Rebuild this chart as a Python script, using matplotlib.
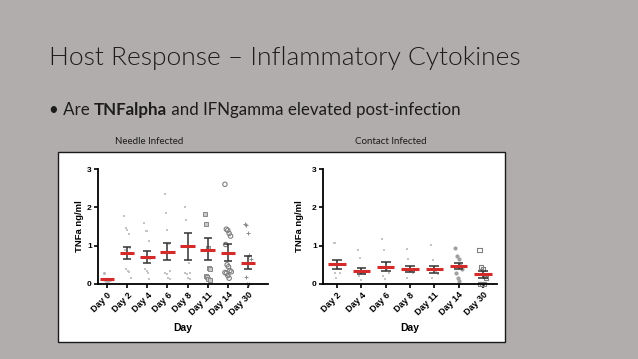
import matplotlib.pyplot as plt
from matplotlib.patches import Rectangle
import numpy as np

# ---- data ----
needle_days = ["Day 0", "Day 2", "Day 4", "Day 6", "Day 8", "Day 11", "Day 14", "Day 30"]
needle_mean = [0.12, 0.80, 0.71, 0.84, 0.98, 0.90, 0.82, 0.56]
needle_low = [0.10, 0.64, 0.56, 0.62, 0.63, 0.62, 0.61, 0.38]
needle_high = [0.14, 0.96, 0.85, 1.06, 1.33, 1.19, 1.05, 0.73]
needle_points = [
    [0.28, 0.14, 0.12, 0.11, 0.10, 0.10, 0.09, 0.08],
    [1.78, 1.47, 1.42, 1.30, 0.95, 0.88, 0.40, 0.35, 0.32, 0.15],
    [1.58, 1.38, 1.38, 1.13, 0.65, 0.40, 0.35, 0.30, 0.12],
    [2.35, 1.85, 1.40, 1.05, 0.35, 0.30, 0.25, 0.15, 0.12],
    [2.00, 1.68, 1.00, 0.55, 0.30, 0.28, 0.25, 0.15, 0.12],
    [1.82, 1.57, 0.93, 0.43, 0.40, 0.20, 0.18, 0.12, 0.10],
    [2.60, 1.43, 1.40, 1.32, 1.25, 1.03, 0.50, 0.45, 0.35, 0.32, 0.30, 0.28, 0.22, 0.15],
    [1.57, 1.55, 1.32, 0.75, 0.65, 0.18, 0.00, 0.00],
]

contact_days = ["Day 2", "Day 4", "Day 6", "Day 8", "Day 11", "Day 14", "Day 30"]
contact_mean = [0.51, 0.33, 0.45, 0.40, 0.38, 0.46, 0.25]
contact_low = [0.40, 0.25, 0.33, 0.31, 0.29, 0.38, 0.15]
contact_high = [0.63, 0.42, 0.57, 0.48, 0.48, 0.55, 0.35]
contact_points = [
    [1.08, 1.08, 0.60, 0.40, 0.30, 0.30, 0.15],
    [0.90, 0.68, 0.40, 0.30, 0.25, 0.20, 0.10],
    [1.18, 0.90, 0.55, 0.40, 0.30, 0.20, 0.12],
    [0.92, 0.65, 0.45, 0.35, 0.28, 0.15],
    [1.02, 0.62, 0.45, 0.35, 0.25, 0.15],
    [0.95, 0.72, 0.65, 0.50, 0.40, 0.30, 0.15, 0.08],
    [0.88, 0.45, 0.40, 0.20, 0.15, 0.00, 0.00, 0.00],
]

W, H = 638, 359
BG = "#b1adac"
INK = "#1c1c1c"
SANS = ["Lato", "DejaVu Sans"]
ARIAL = ["Liberation Sans", "DejaVu Sans"]

# marker styles per group (GraphPad look)
light = dict(marker="s", s=4, color="#c4c4c4", linewidths=0)
needle_styles = [dict(marker="o", s=5, color="#b8b8b8", linewidths=0),
                 light, light, light, light,
                 dict(marker="s", s=9, facecolor="#c8c8c8", edgecolor="#8a8a8a", linewidths=0.7),
                 dict(marker="o", s=10, facecolor="none", edgecolor="#7f7f7f", linewidths=0.8),
                 dict(marker="+", s=8, color="#8c8c8c", linewidths=0.7)]
contact_styles = [light, light, light, light, light,
                  dict(marker="o", s=9, color="#a0a0a0", linewidths=0),
                  dict(marker="s", s=9, facecolor="none", edgecolor="#7f7f7f", linewidths=0.8)]


def px_axes(x0, x1, y0, y1):
    return fig.add_axes([x0 / W, 1 - y1 / H, (x1 - x0) / W, (y1 - y0) / H])


def draw_panel(ax, days, mean, low, high, points, styles, xlim, ylabel_x):
    for i in range(len(days)):
        vals = np.array(points[i])
        n = len(vals)
        offs = (np.arange(n) % 5 - 2) * 0.07 + ((np.arange(n) // 5) % 2) * 0.035
        ax.scatter(i + offs, vals, zorder=2, clip_on=False, **styles[i])
        ax.vlines(i, low[i], high[i], color="#333333", lw=1.1, zorder=3)
        ax.hlines([low[i], high[i]], i - 0.2, i + 0.2, color="#333333", lw=1.1, zorder=3)
        ax.hlines(mean[i], i - 0.36, i + 0.36, color="#d42a2a", lw=2.2, zorder=4)

    ax.set_xlim(*xlim)
    ax.set_ylim(0, 3)
    ax.set_yticks([0, 1, 2, 3])
    ax.set_xticks(range(len(days)))
    ax.set_xticklabels(days, rotation=45, ha="right", rotation_mode="anchor",
                       fontsize=6.5, fontweight="bold", family=ARIAL)
    for lab in ax.get_yticklabels():
        lab.set_fontsize(6)
        lab.set_fontweight("bold")
        lab.set_family(ARIAL)
    for s in ["top", "right"]:
        ax.spines[s].set_visible(False)
    for s in ["left", "bottom"]:
        ax.spines[s].set_linewidth(1.3)
    ax.tick_params(axis="both", length=3, width=1.2, pad=1.5)
    ax.set_facecolor("none")
    ax.set_xlabel("Day", fontsize=7.5, fontweight="bold", family=ARIAL, labelpad=4)
    ax.set_ylabel("TNFa ng/ml", fontsize=6.8, fontweight="bold", family=ARIAL)
    ax.yaxis.set_label_coords(ylabel_x, 0.5)


fig = plt.figure(figsize=(W / 100, H / 100), dpi=100, facecolor=BG)
renderer = fig.canvas.get_renderer()

# white picture box
fig.add_artist(Rectangle((58 / W, 1 - 342 / H), (505 - 58) / W, (342 - 152) / H,
                         transform=fig.transFigure, facecolor="white",
                         edgecolor="#1a1a1a", lw=1.0, zorder=0))

fig.text(49 / W, 1 - 65 / H, "Host Response \u2013 Inflammatory Cytokines",
         fontsize=19, fontweight=300, family=SANS, color=INK, va="baseline")

# bullet line, pieces placed one after another
x = 49
for txt, wt in [("\u2022 Are ", "normal"), ("TNFalpha", "bold"),
                (" and IFNgamma elevated post-infection", "normal")]:
    t = fig.text(x / W, 1 - 115 / H, txt, fontsize=12.2, fontweight=wt, family=SANS,
                 color=INK, va="baseline")
    x = t.get_window_extent(renderer).x1

fig.text(149 / W, 1 - 141 / H, "Needle Infected", fontsize=7, family=SANS,
         color=INK, ha="center", va="center")
fig.text(391 / W, 1 - 142 / H, "Contact Infected", fontsize=7, family=SANS,
         color=INK, ha="center", va="center")

ax1 = px_axes(98, 268, 169, 284)
draw_panel(ax1, needle_days, needle_mean, needle_low, needle_high, needle_points,
           needle_styles, (-0.45, 8.0), -0.08)

ax2 = px_axes(323, 497, 169, 284)
draw_panel(ax2, contact_days, contact_mean, contact_low, contact_high, contact_points,
           contact_styles, (-0.58, 6.58), -0.11)

fig.savefig("out.png", dpi=100, facecolor=BG)
